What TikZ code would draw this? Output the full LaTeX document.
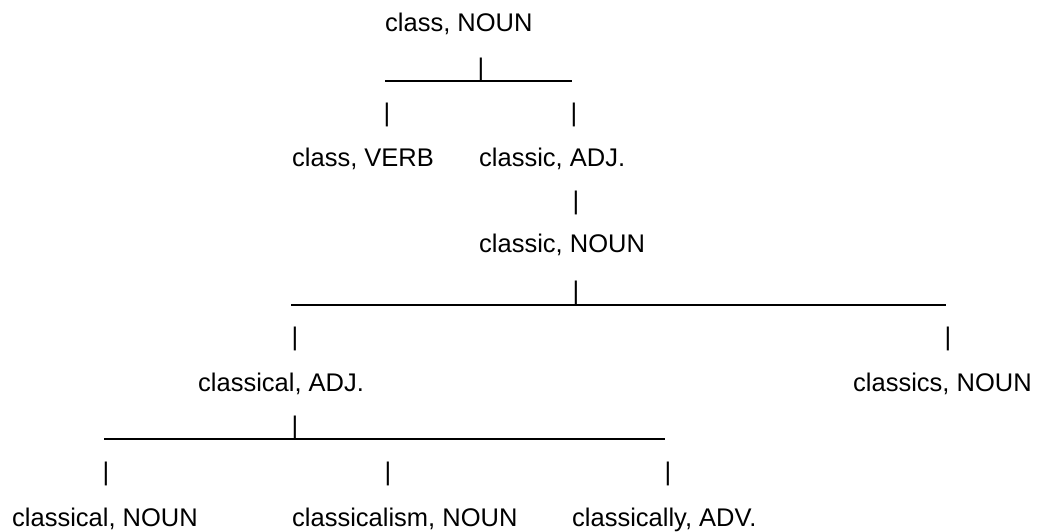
\documentclass[tikz,border=0pt]{standalone}
\usepackage{fontspec}
\setmainfont{Liberation Sans}
\begin{document}
\begin{tikzpicture}[x=1pt,y=-1pt,
  lbl/.style={anchor=base west, inner sep=0pt, font=\fontsize{25.5}{30}\selectfont},
  bar/.style={anchor=center, inner sep=0pt, font=\fontsize{25.5}{30}\selectfont},
  rule/.style={line width=2pt}]
\useasboundingbox[fill=white] (0,0) rectangle (1040,532);

% word forms
\node[lbl] (classN)    at (385,32)  {class, NOUN};
\node[lbl] (classV)    at (292,166) {class, VERB};
\node[lbl] (classicA)  at (479,166) {classic, ADJ.};
\node[lbl] (classicN)  at (479,252) {classic, NOUN};
\node[lbl] (classicalA) at (198,391) {classical, ADJ.};
\node[lbl] (classicsN) at (853,391) {classics, NOUN};
\node[lbl] (classicalN) at (12,526) {classical, NOUN};
\node[lbl] (classicalismN) at (292,526) {classicalism, NOUN};
\node[lbl] (classicallyA) at (572,526) {classically, ADV.};

% vertical strokes
\node[bar] (b1) at (481,70)  {|};
\node[bar] (b2) at (387,115) {|};
\node[bar] (b3) at (574,115) {|};
\node[bar] (b4) at (576,203) {|};
\node[bar] (b5) at (576,293) {|};
\node[bar] (b6) at (295,339) {|};
\node[bar] (b7) at (948,339) {|};
\node[bar] (b8) at (295,428) {|};
\node[bar] (b9) at (106,474) {|};
\node[bar] (b10) at (388,474) {|};
\node[bar] (b11) at (668,474) {|};

% horizontal rules
\coordinate (r1a) at (385,81);
\coordinate (r1b) at (572,81);
\coordinate (r2a) at (291,305);
\coordinate (r2b) at (946,305);
\coordinate (r3a) at (104,439);
\coordinate (r3b) at (665,439);
\draw[rule] (r1a) -- (r1b);
\draw[rule] (r2a) -- (r2b);
\draw[rule] (r3a) -- (r3b);
\end{tikzpicture}
\end{document}
